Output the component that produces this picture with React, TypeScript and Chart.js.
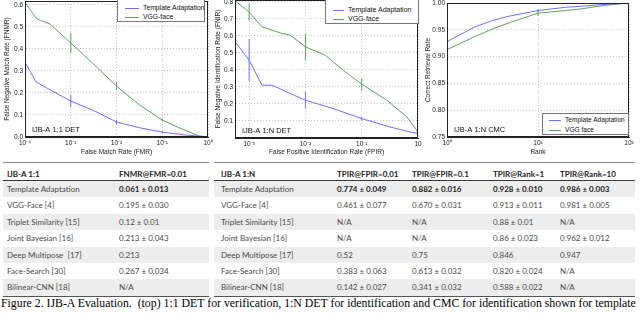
import React, { useEffect, useRef } from 'react';
import { Chart, registerables } from 'chart.js';
Chart.register(...registerables);

// ---------------- data ----------------
const SERIES_TA = 'Template Adaptation';
const SERIES_VGG = 'VGG-face';

// IJB-A 1:1 DET  (x: FMR, y: FNMR)
const det11FmrTA = [1e-4, 1.74e-4, 3.5e-4, 1e-3, 3.2e-3, 1e-2, 3.2e-2, 1e-1, 3.2e-1, 1];
const det11FnmrTA = [0.34, 0.25, 0.215, 0.163, 0.12, 0.068, 0.042, 0.022, 0.009, 0.0];
const det11FmrVGG = [1e-4, 1.8e-4, 3.5e-4, 1e-3, 3.1e-3, 1e-2, 3.2e-2, 1e-1, 2.45e-1, 6.3e-1, 1];
const det11FnmrVGG = [0.612, 0.537, 0.514, 0.427, 0.333, 0.231, 0.145, 0.077, 0.04, 0.005, 0.0];
const det11ErrX = [1e-3, 1e-2, 1e-1];
const det11ErrTA = [0.027, 0.01, 0.004];
const det11ErrVGG = [0.047, 0.017, 0.006];

// IJB-A 1:N DET  (x: FPIR, y: FNIR)
const detNFpirTA = [5.6e-4, 1e-3, 1.68e-3, 2.57e-3, 5.37e-3, 1e-2, 3.09e-2, 1e-1, 3.16e-1, 7.24e-1, 1];
const detNFnirTA = [0.565, 0.457, 0.31, 0.31, 0.261, 0.222, 0.173, 0.114, 0.065, 0.035, 0.026];
const detNFpirVGG = [5.6e-4, 1e-3, 1.68e-3, 3.8e-3, 5.37e-3, 1e-2, 2.24e-2, 4.68e-2, 1e-1, 2.79e-1, 6.31e-1, 9.55e-1, 1];
const detNFnirVGG = [0.806, 0.739, 0.653, 0.614, 0.604, 0.535, 0.486, 0.398, 0.316, 0.222, 0.124, 0.045, 0.005];
const detNErrX = [1e-3, 1e-2, 1e-1];
const detNErrTA = [0.123, 0.05, 0.01];
const detNErrVGG = [0.051, 0.077, 0.037];

// IJB-A 1:N CMC  (x: rank, y: correct retrieval rate)
const cmcRank = [1, 2, 3, 4, 5, 10, 20, 30, 50, 100];
const cmcTA = [0.928, 0.955, 0.966, 0.972, 0.976, 0.986, 0.992, 0.994, 0.997, 1.0];
const cmcVGG = [0.913, 0.937, 0.95, 0.958, 0.964, 0.981, 0.986, 0.989, 0.995, 1.0];
const cmcErrX = [10];
const cmcErrTA = [0.003];
const cmcErrVGG = [0.005];

// tick values
const det11XTicks = [1e-4, 1e-3, 1e-2, 1e-1, 1];
const det11YTicks = [0, 0.1, 0.2, 0.3, 0.4, 0.5, 0.6];
const detNXTicks = [1e-3, 1e-2, 1e-1, 1];
const detNXLabels = ['10⁻³', '10⁻²', '10⁻¹', '10'];
const detNYTicks = [0.1, 0.2, 0.3, 0.4, 0.5, 0.6, 0.7, 0.8];
const cmcXTicks = [1, 10, 100];
const cmcYTicks = [0.75, 0.8, 0.85, 0.9, 0.95, 1.0];

// tables
const leftHeaders = ['IJB-A 1:1', 'FNMR@FMR=0.01'];
const methodsLeft = ['Template Adaptation', 'VGG-Face [4]', 'Triplet Similarity [15]', 'Joint Bayesian [16]', 'Deep Multipose  [17]', 'Face-Search [30]', 'Bilinear-CNN [18]'];
const fnmrAt001 = ['0.061 ± 0.013', '0.195 ± 0.030', '0.12 ± 0.01', '0.213 ± 0.043', '0.213', '0.267 ± 0.034', 'N/A'];
const rightHeaders = ['IJB-A 1:N', 'TPIR@FPIR=0.01', 'TPIR@FPIR=0.1', 'TPIR@Rank=1', 'TPIR@Rank=10'];
const methodsRight = ['Template Adaptation', 'VGG-Face [4]', 'Triplet Similarity [15]', 'Joint Bayesian [16]', 'Deep Multipose [17]', 'Face-Search [30]', 'Bilinear-CNN [18]'];
const tpirFpir001 = ['0.774 ± 0.049', '0.461 ± 0.077', 'N/A', 'N/A', '0.52', '0.383 ± 0.063', '0.142 ± 0.027'];
const tpirFpir01 = ['0.882 ± 0.016', '0.670 ± 0.031', 'N/A', 'N/A', '0.75', '0.613 ± 0.032', '0.341 ± 0.032'];
const tpirRank1 = ['0.928 ± 0.010', '0.913 ± 0.011', '0.88 ± 0.01', '0.86 ± 0.023', '0.846', '0.820 ± 0.024', '0.588 ± 0.022'];
const tpirRank10 = ['0.986 ± 0.003', '0.981 ± 0.005', 'N/A', '0.962 ± 0.012', '0.947', 'N/A', 'N/A'];

const caption = 'Figure 2. IJB-A Evaluation.  (top) 1:1 DET for verification, 1:N DET for identification and CMC for identification shown for template';

// ---------------- styles ----------------
const BLUE = '#6f6fff';
const GREEN = '#5fa05f';
const PLOT_FONT = '"Liberation Sans", Arial, sans-serif';
const TABLE_FONT = 'Lato, "Open Sans", sans-serif';

const SUP: Record<string, string> = { '-': '⁻', '0': '⁰', '1': '¹', '2': '²', '3': '³', '4': '⁴', '5': '⁵' };
const pow10Label = (v: number) => '10' + String(Math.round(Math.log10(v))).split('').map((c) => SUP[c]).join('');

type Series = { label: string; x: number[]; y: number[]; color: string };
type Err = { series: Series; x: number[]; e: number[] };

type PlotSpec = {
  series: Series[];
  errs: Err[];
  xMin: number; xMax: number; xTicks: number[]; xLabel: (v: number, i: number) => string;
  yMin: number; yMax: number; yTicks: number[]; yLabel: (v: number) => string;
  xTitle: string; yTitle: string; inner: string;
  padTop: number; padRight: number; yWidth: number; xHeight: number; yTitlePad: number;
};

const framePlugin = {
  id: 'frame',
  afterDraw(chart: any) {
    const { ctx, chartArea } = chart;
    const l = Math.round(chartArea.left) + 0.5, t = Math.round(chartArea.top) + 0.5;
    const r = Math.round(chartArea.right) - 0.5, b = Math.round(chartArea.bottom) - 0.5;
    ctx.save();
    ctx.strokeStyle = '#222';
    ctx.lineWidth = 1;
    ctx.strokeRect(l, t, r - l, b - t);
    const txt = chart.options.plugins.inner?.text;
    if (txt) {
      ctx.fillStyle = '#111';
      ctx.font = `7.5px ${PLOT_FONT}`;
      ctx.textBaseline = 'middle';
      ctx.fillText(txt, chartArea.left + 7, chartArea.bottom - 7);
    }
    ctx.restore();
  },
};

function Plot({ spec, left, width, height }: { spec: PlotSpec; left: number; width: number; height: number }) {
  const ref = useRef<HTMLCanvasElement>(null);
  useEffect(() => {
    const datasets: any[] = [];
    spec.series.forEach((s) =>
      datasets.push({
        label: s.label,
        data: s.x.map((x, i) => ({ x, y: s.y[i] })),
        showLine: true, borderColor: s.color, backgroundColor: s.color,
        borderWidth: 1, pointRadius: 0, tension: 0,
      })
    );
    spec.errs.forEach((er) =>
      er.x.forEach((x, i) => {
        const c = er.series.y[er.series.x.indexOf(x)];
        datasets.push({
          data: [{ x, y: c - er.e[i] }, { x, y: c + er.e[i] }],
          showLine: true, borderColor: er.series.color, borderWidth: 1, pointRadius: 0,
        });
      })
    );
    const tickFont = { family: PLOT_FONT, size: 6.5 };
    const chart = new Chart(ref.current!, {
      type: 'scatter',
      data: { datasets },
      plugins: [framePlugin],
      options: {
        responsive: false,
        animation: false,
        events: [],
        layout: { padding: { top: spec.padTop, right: spec.padRight, left: 0, bottom: 0 } },
        plugins: { legend: { display: false }, tooltip: { enabled: false }, inner: { text: spec.inner } } as any,
        scales: {
          x: {
            type: 'logarithmic',
            min: spec.xMin, max: spec.xMax,
            afterBuildTicks: (s: any) => { s.ticks = spec.xTicks.map((v) => ({ value: v })); },
            afterFit: (s: any) => { s.height = spec.xHeight; s.paddingLeft = 0; s.paddingRight = 0; },
            ticks: {
              font: tickFont, color: '#222', padding: 2, maxRotation: 0, autoSkip: false,
              callback: (v: any, i: number) => spec.xLabel(Number(v), i),
            },
            grid: { color: '#b8b8b8', drawTicks: false, lineWidth: 0.8 },
            border: { color: '#222', dash: [1, 2] },
            title: { display: true, text: spec.xTitle, font: { family: PLOT_FONT, size: 6.5 }, color: '#222', padding: { top: 0, bottom: 4 } },
          },
          y: {
            type: 'linear',
            min: spec.yMin, max: spec.yMax,
            afterBuildTicks: (s: any) => { s.ticks = spec.yTicks.map((v) => ({ value: v })); },
            afterFit: (s: any) => { s.width = spec.yWidth; s.paddingTop = 0; s.paddingBottom = 0; },
            ticks: { font: tickFont, color: '#222', padding: 2, autoSkip: false, callback: (v: any) => spec.yLabel(Number(v)) },
            grid: { color: '#b8b8b8', drawTicks: false, lineWidth: 0.8 },
            border: { color: '#222', dash: [1, 2] },
            title: { display: true, text: spec.yTitle, font: { family: PLOT_FONT, size: 6.5 }, color: '#222', padding: { top: spec.yTitlePad, bottom: 0 } },
          },
        },
      } as any,
    });
    return () => chart.destroy();
  }, []);
  return (
    <canvas ref={ref} width={width} height={height}
      style={{ position: 'absolute', left, top: 0, width, height }} />
  );
}

function LegendBox({ left, top, width, height, items, lineLeft, lineWidth, textLeft, rowY, fontSize }:
  { left: number; top: number; width: number; height: number; items: Series[]; lineLeft: number; lineWidth: number; textLeft: number; rowY: number[]; fontSize: number }) {
  return (
    <div style={{ position: 'absolute', left, top, width, height, background: '#fff', border: '1px solid #777', boxSizing: 'border-box' }}>
      {items.map((s, i) => (
        <React.Fragment key={i}>
          <div style={{ position: 'absolute', left: lineLeft, top: rowY[i], width: lineWidth, height: 1, background: s.color }} />
          <div style={{ position: 'absolute', left: textLeft, top: rowY[i] - 5, lineHeight: '10px', fontSize, fontFamily: PLOT_FONT, color: '#111', whiteSpace: 'nowrap' }}>{s.label}</div>
        </React.Fragment>
      ))}
    </div>
  );
}

function Table({ left, width, headers, cols, colX }: { left: number; width: number; headers: string[]; cols: string[][]; colX: number[] }) {
  const rowH = 16.4;
  return (
    <div style={{ position: 'absolute', left, top: 162, width, fontFamily: TABLE_FONT, fontSize: 8, color: '#333' }}>
      <div style={{ position: 'relative', height: 17, borderTop: '1.5px solid #8a8a8a', borderBottom: '1.5px solid #3a3a3a' }}>
        {headers.map((h, j) => (
          <span key={j} style={{ position: 'absolute', left: colX[j], top: 5, lineHeight: '12px', fontWeight: 700, whiteSpace: 'pre', color: '#222' }}>{h}</span>
        ))}
      </div>
      {cols[0].map((_, i) => (
        <div key={i} style={{ position: 'relative', height: rowH, background: i % 2 === 0 ? '#ededed' : '#fff' }}>
          {cols.map((c, j) => (
            <span key={j} style={{ position: 'absolute', left: colX[j], top: 0, lineHeight: rowH + 'px', whiteSpace: 'pre', fontWeight: i === 0 && j > 0 ? 700 : 400, color: i === 0 && j > 0 ? '#222' : '#4a4a4a' }}>{c[i]}</span>
          ))}
        </div>
      ))}
      <div style={{ height: 0, borderTop: '1px solid #555' }} />
    </div>
  );
}

const taDet11: Series = { label: SERIES_TA, x: det11FmrTA, y: det11FnmrTA, color: BLUE };
const vggDet11: Series = { label: SERIES_VGG, x: det11FmrVGG, y: det11FnmrVGG, color: GREEN };
const taDetN: Series = { label: SERIES_TA, x: detNFpirTA, y: detNFnirTA, color: BLUE };
const vggDetN: Series = { label: SERIES_VGG, x: detNFpirVGG, y: detNFnirVGG, color: GREEN };
const taCmc: Series = { label: SERIES_TA, x: cmcRank, y: cmcTA, color: BLUE };
const vggCmc: Series = { label: 'VGG face', x: cmcRank, y: cmcVGG, color: GREEN };

const spec1: PlotSpec = {
  series: [taDet11, vggDet11],
  errs: [{ series: taDet11, x: det11ErrX, e: det11ErrTA }, { series: vggDet11, x: det11ErrX, e: det11ErrVGG }],
  xMin: 1e-4, xMax: 1, xTicks: det11XTicks, xLabel: (v) => pow10Label(v),
  yMin: 0, yMax: 0.618, yTicks: det11YTicks, yLabel: (v) => v.toFixed(1),
  xTitle: 'False Match Rate (FMR)', yTitle: 'False Negative Match Rate (FNMR)', inner: 'IJB-A 1:1 DET',
  padTop: 1, padRight: 7, yWidth: 25, xHeight: 23, yTitlePad: 3,
};
const spec2: PlotSpec = {
  series: [taDetN, vggDetN],
  errs: [{ series: taDetN, x: detNErrX, e: detNErrTA }, { series: vggDetN, x: detNErrX, e: detNErrVGG }],
  xMin: 5.6e-4, xMax: 1, xTicks: detNXTicks, xLabel: (_v, i) => detNXLabels[i],
  yMin: 0, yMax: 0.81, yTicks: detNYTicks, yLabel: (v) => v.toFixed(1),
  xTitle: 'False Positive Identification Rate (FPIR)', yTitle: 'False Negative Identification Rate (FNIR)', inner: 'IJB-A 1:N DET',
  padTop: 0, padRight: 7, yWidth: 25, xHeight: 22, yTitlePad: 4,
};
const spec3: PlotSpec = {
  series: [taCmc, vggCmc],
  errs: [{ series: taCmc, x: cmcErrX, e: cmcErrTA }, { series: vggCmc, x: cmcErrX, e: cmcErrVGG }],
  xMin: 1, xMax: 100, xTicks: cmcXTicks, xLabel: (v) => pow10Label(v),
  yMin: 0.75, yMax: 1.0, yTicks: cmcYTicks, yLabel: (v) => v.toFixed(2),
  xTitle: 'Rank', yTitle: 'Correct Retrieval Rate', inner: 'IJB-A 1:N CMC',
  padTop: 3, padRight: 11, yWidth: 25, xHeight: 23, yTitlePad: 2,
};

export default function App() {
  return (
    <div style={{ position: 'absolute', left: 0, top: 0, width: 640, height: 314, overflow: 'hidden', background: '#fff' }}>
      <Plot spec={spec1} left={0} width={215} height={160} />
      <Plot spec={spec2} left={210} width={215} height={160} />
      <Plot spec={spec3} left={422} width={218} height={160} />
      <LegendBox left={117} top={-1} width={88} height={23} items={[taDet11, vggDet11]} lineLeft={7} lineWidth={14} textLeft={25} rowY={[8, 17]} fontSize={6.8} />
      <LegendBox left={325} top={-1} width={94} height={25} items={[taDetN, vggDetN]} lineLeft={7} lineWidth={11} textLeft={22} rowY={[10, 19]} fontSize={7} />
      <LegendBox left={542} top={113} width={87} height={22} items={[taCmc, vggCmc]} lineLeft={6} lineWidth={12} textLeft={22} rowY={[6, 16]} fontSize={6.6} />
      <Table left={3} width={206} headers={leftHeaders} cols={[methodsLeft, fnmrAt001]} colX={[4, 116]} />
      <Table left={214} width={421} headers={rightHeaders} cols={[methodsRight, tpirFpir001, tpirFpir01, tpirRank1, tpirRank10]} colX={[7, 123, 198, 279, 346]} />
      <div style={{ position: 'absolute', left: 1, top: 297, fontFamily: '"Liberation Serif", "Times New Roman", serif', fontSize: 11.8, lineHeight: '13px', color: '#000', whiteSpace: 'pre' }}>{caption}</div>
    </div>
  );
}
